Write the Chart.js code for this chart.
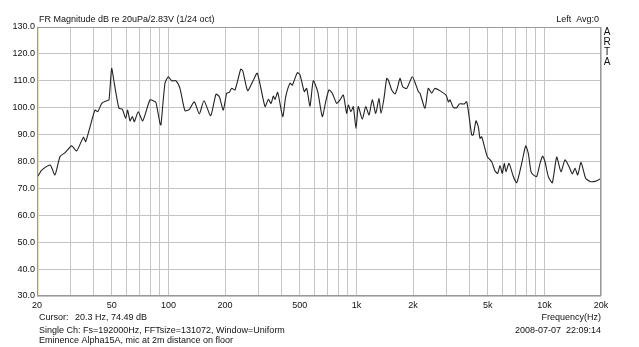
<!DOCTYPE html>
<html>
<head>
<meta charset="utf-8">
<script src="https://cdn.jsdelivr.net/npm/chart.js@4/dist/chart.umd.min.js"></script>
<style>
  body { margin: 0; background: #fff; }
  canvas { display: block; }
</style>
</head>
<body>
<canvas id="fr-chart" width="639" height="347"></canvas>
<script>
// Frequency response (Hz, dB)
const freqHz = [
  20.2, 21.2, 23.5, 24.9, 26.5, 28.2, 30.6, 32.5, 35.3, 36.3,
  38.3, 40.7, 42.1, 44.2, 47.0, 48.3, 49.9, 51.2, 52.6, 54.6,
  56.8, 59.3, 60.7, 62.5, 64.3, 65.9, 69.1, 73.0, 79.8, 84.1,
  85.9, 90.2, 91.3, 95.9, 99.9, 104.1, 109.8, 115.2, 122.5, 129.2,
  137.3, 146.0, 154.6, 167.8, 179.1, 186.6, 195.9, 204.2, 210.8, 217.1,
  226.1, 242.4, 248.4, 264.0, 280.7, 297.0, 326.5, 340.0, 351.4, 361.4,
  369.0, 381.4, 405.5, 420.7, 443.4, 456.1, 484.9, 501.1, 528.2, 544.0,
  566.4, 589.8, 622.5, 658.6, 686.5, 714.9, 744.3, 785.5, 817.9, 851.8,
  887.8, 905.6, 935.9, 962.6, 995.1, 1023, 1075, 1121, 1167, 1215,
  1267, 1319, 1352, 1402, 1449, 1478, 1541, 1605, 1650, 1706,
  1763, 1852, 1983, 2075, 2134, 2179, 2316, 2412, 2515, 2618,
  2996, 3083, 3147, 3277, 3416, 3527, 3736, 3861, 3986, 4105,
  4186, 4327, 4451, 4545, 4640, 4970, 5245, 5462, 5645, 5806,
  5970, 6118, 6248, 6482, 6834, 7124, 7574, 7954, 8210, 8488,
  8730, 9100, 9476, 9794, 10074, 10490, 11016, 11626, 12254, 12870,
  13516, 14072, 14546, 15036, 15656, 16576, 17480, 18584, 19348, 20000
];
const magDb = [
  74.5, 76.8, 78.7, 75.0, 81.8, 83.3, 85.8, 83.9, 89.0, 87.4,
  92.9, 99.1, 98.5, 101.6, 102.6, 102.9, 114.6, 110.3, 105.4, 99.8,
  99.4, 96.1, 99.1, 95.1, 96.7, 94.8, 98.5, 95.1, 102.9, 102.4,
  101.9, 94.2, 93.6, 109.1, 111.5, 110.0, 110.0, 107.2, 98.9, 99.4,
  102.2, 97.7, 102.6, 97.0, 105.0, 104.1, 99.1, 105.4, 105.7, 107.2,
  106.6, 114.3, 113.8, 106.3, 109.7, 112.8, 100.4, 103.1, 101.6, 104.3,
  103.1, 105.7, 96.7, 104.1, 109.1, 108.4, 113.0, 112.2, 106.0, 107.2,
  100.6, 110.0, 106.0, 96.7, 102.2, 106.6, 105.4, 101.6, 102.9, 104.7,
  97.9, 101.0, 98.5, 100.4, 92.3, 100.4, 95.7, 100.4, 97.3, 102.9,
  97.9, 103.5, 97.9, 103.5, 110.9, 110.3, 106.6, 105.1, 107.2, 110.9,
  107.8, 107.2, 111.5, 108.4, 106.0, 105.4, 99.8, 107.2, 105.4, 107.2,
  104.7, 102.2, 102.9, 100.1, 100.0, 101.4, 101.4, 102.2, 96.1, 89.9,
  89.9, 95.1, 92.9, 88.6, 89.2, 81.8, 79.9, 76.5, 75.6, 78.5,
  75.6, 79.3, 76.2, 79.3, 74.4, 72.1, 79.3, 85.8, 83.0, 76.2,
  75.0, 74.4, 79.3, 82.0, 79.9, 74.4, 72.1, 81.6, 76.2, 80.6,
  78.1, 75.4, 77.5, 75.0, 79.6, 73.8, 72.6, 72.6, 73.1, 73.8
];
const cursorHz = 20.3;

// Log grid lines and the labelled ones
const xGridHz = [
  20, 30, 40, 50, 60, 70, 80, 90,
  100, 200, 300, 400, 500, 600, 700, 800, 900,
  1000, 2000, 3000, 4000, 5000, 6000, 7000, 8000, 9000,
  10000, 20000
];
const xLabelHz = [20, 50, 100, 200, 500, 1000, 2000, 5000, 10000, 20000];
const xLabelText = ["20", "50", "100", "200", "500", "1k", "2k", "5k", "10k", "20k"];

const FONT = "'Liberation Sans', Arial, sans-serif";

const artaText = {
  id: "artaText",
  afterDraw(chart) {
    const { ctx, chartArea: a } = chart;
    ctx.save();
    // plot frame
    ctx.strokeStyle = "#999";
    ctx.lineWidth = 1;
    ctx.strokeRect(a.left + 0.5, a.top + 0.5, a.right - a.left - 1, a.bottom - a.top - 1);

    ctx.fillStyle = "#111";
    ctx.font = `9px ${FONT}`;
    ctx.textBaseline = "middle";

    ctx.textAlign = "left";
    ctx.fillText("FR Magnitude dB re 20uPa/2.83V (1/24 oct)", 39, 20);
    ctx.fillText("Cursor:", 39, 318);
    ctx.fillText("20.3 Hz, 74.49 dB", 75, 318);
    ctx.fillText("Single Ch: Fs=192000Hz, FFTsize=131072, Window=Uniform", 39, 331);
    ctx.fillText("Eminence Alpha15A, mic at 2m distance on floor", 39, 341);

    ctx.textAlign = "right";
    ctx.fillText("Left  Avg:0", 599, 20);
    ctx.fillText("Frequency(Hz)", 601, 318);
    ctx.fillText("2008-07-07  22:09:14", 601, 331);

    ctx.textAlign = "center";
    ctx.font = `10px ${FONT}`;
    ["A", "R", "T", "A"].forEach((ch, i) => ctx.fillText(ch, 607, 32 + i * 10));
    ctx.restore();
  },
};

new Chart(document.getElementById("fr-chart"), {
  type: "line",
  data: {
    datasets: [
      {
        data: freqHz.map((f, i) => ({ x: f, y: magDb[i] })),
        borderColor: "#222",
        borderWidth: 1.1,
        pointRadius: 0,
        tension: 0.2,
      },
      {
        data: [{ x: cursorHz, y: 30 }, { x: cursorHz, y: 130 }],
        borderColor: "#e4df8c",
        borderWidth: 1,
        pointRadius: 0,
        order: 2,
      },
    ],
  },
  options: {
    responsive: false,
    animation: false,
    layout: { padding: { left: 0, top: 27, right: 38, bottom: 0 } },
    plugins: { legend: { display: false }, tooltip: { enabled: false } },
    scales: {
      x: {
        type: "logarithmic",
        min: 20,
        max: 20000,
        afterBuildTicks: (s) => { s.ticks = xGridHz.map((v) => ({ value: v })); },
        afterFit: (s) => { s.height = 51; },
        grid: { color: "#c4c4c4", drawTicks: false },
        border: { display: false },
        ticks: {
          autoSkip: false,
          maxRotation: 0,
          padding: 4,
          color: "#111",
          font: { family: FONT, size: 9 },
          callback: (v) => {
            const i = xLabelHz.indexOf(v);
            return i >= 0 ? xLabelText[i] : "";
          },
        },
      },
      y: {
        min: 30,
        max: 130,
        afterFit: (s) => { s.width = 37; },
        grid: { color: "#c4c4c4", drawTicks: false },
        border: { display: false },
        ticks: {
          stepSize: 10,
          padding: 2,
          color: "#111",
          font: { family: FONT, size: 9 },
          callback: (v) => v.toFixed(1),
        },
      },
    },
  },
  plugins: [artaText],
});
</script>
</body>
</html>
